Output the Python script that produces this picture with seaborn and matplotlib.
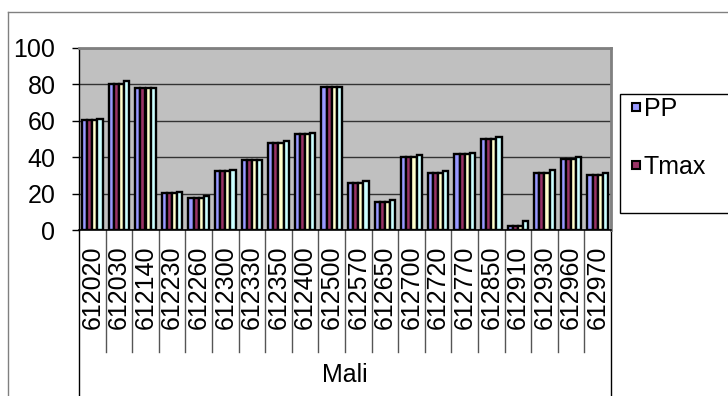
import numpy as np
import pandas as pd
import matplotlib
matplotlib.use("Agg")
import matplotlib.pyplot as plt
import seaborn as sns
from matplotlib.patches import Rectangle
from matplotlib.lines import Line2D
from matplotlib.transforms import blended_transform_factory

# Stations of Mali and their four series
stations = ["612020", "612030", "612140", "612230", "612260", "612300", "612330",
            "612350", "612400", "612500", "612570", "612650", "612700", "612720",
            "612770", "612850", "612910", "612930", "612960", "612970"]
pp   = [60.5, 80, 78, 20.3, 17.7, 32.5, 38.2, 48, 52.6, 78.5, 26, 15.6, 40, 31.5, 41.6, 50, 2.2, 31.3, 39, 30.2]
tmax = [60.5, 80, 78, 20.3, 17.7, 32.5, 38.2, 48, 52.6, 78.5, 26, 15.6, 40, 31.5, 41.6, 50, 2.2, 31.3, 39, 30.2]
tmin = [60.5, 80, 78, 20.3, 17.7, 32.5, 38.2, 48, 52.6, 78.5, 26, 15.6, 40, 31.5, 41.6, 50, 2.2, 31.3, 39, 30.2]
tmoy = [61.2, 82, 78, 21, 18.5, 33.2, 38.7, 48.7, 53.1, 78.5, 26.7, 16.3, 41, 32.4, 42.5, 50.9, 4.9, 32.8, 40.3, 31.2]
series = ["PP", "Tmax", "Tmin", "Tmoy"]
colors = ["#9999FF", "#993366", "#FFFFCC", "#CCFFFF"]
region = "Mali"

df = pd.DataFrame({"station": stations, "PP": pp, "Tmax": tmax, "Tmin": tmin, "Tmoy": tmoy})
long = df.melt(id_vars="station", var_name="serie", value_name="valeur")

plt.rcParams["font.family"] = ["Liberation Sans", "DejaVu Sans"]

W, H = 728, 396
fig = plt.figure(figsize=(W / 100, H / 100), dpi=100)
x0, x1, y0, y1 = 79, 611, 48, 230
ax = fig.add_axes([x0 / W, 1 - y1 / H, (x1 - x0) / W, (y1 - y0) / H])

sns.barplot(data=long, x="station", y="valeur", hue="serie", order=stations,
            hue_order=series, palette=colors, width=0.78, gap=0,
            edgecolor="black", linewidth=1.7, errorbar=None, legend=False,
            saturation=1, ax=ax, zorder=3)

ax.set_facecolor("#C0C0C0")
ax.set_xlim(-0.5, len(stations) - 0.5)
ax.set_ylim(0, 100)
ax.set_yticks(range(0, 101, 20))
ax.yaxis.grid(True, color="#333333", linewidth=1)
ax.xaxis.grid(False)
ax.set_axisbelow(True)
ax.set_xlabel("")
ax.set_ylabel("")

ax.spines["left"].set_color("black")
ax.spines["left"].set_linewidth(1)
ax.spines["bottom"].set_color("black")
ax.spines["bottom"].set_linewidth(1.2)
for s in ("top", "right"):
    ax.spines[s].set_color("#808080")
    ax.spines[s].set_linewidth(2)

ax.tick_params(axis="y", length=5, width=1, direction="out", pad=12, labelsize=18)
ax.tick_params(axis="x", length=0, pad=11, labelsize=18, labelrotation=90)

# Category separators under the axis and the grouping label
trans = blended_transform_factory(ax.transData, ax.transAxes)
n = len(stations)
for k in range(n + 1):
    bottom = -1.2 if k in (0, n) else (230 - 352) / (y1 - y0)
    ax.plot([k - 0.5, k - 0.5], [0, bottom], transform=trans, clip_on=False,
            color="#555555" if k not in (0, n) else "black", linewidth=1)
ax.text(0.5, (230 - 375) / (y1 - y0), region, transform=ax.transAxes,
        ha="center", va="center", fontsize=18)

# Chart frame
fig.add_artist(Line2D([8 / W, 8 / W], [0, 1 - 12 / H], transform=fig.transFigure,
                      color="#808080", linewidth=1))
fig.add_artist(Line2D([8 / W, 1], [1 - 12 / H, 1 - 12 / H], transform=fig.transFigure,
                      color="#808080", linewidth=1))

# Legend box and entries
box = Rectangle((620 / W, 1 - 213 / H), 0.2, 119 / H, transform=fig.transFigure,
                facecolor="white", edgecolor="black", linewidth=1, zorder=1)
fig.add_artist(box)
handles = [Line2D([], [], linestyle="none", marker="s", markersize=6,
                  markerfacecolor=c, markeredgecolor="black", markeredgewidth=1.5)
           for c in colors[:2]]
leg = fig.legend(handles, series[:2], loc="upper left", bbox_to_anchor=(630 / W, 1 - 97 / H),
                 bbox_transform=fig.transFigure, frameon=False, fontsize=18,
                 handlelength=0.45, handletextpad=0.1,
                 labelspacing=1.35, borderpad=0, borderaxespad=0)
leg.set_zorder(5)

fig.savefig("out.png", dpi=100)
